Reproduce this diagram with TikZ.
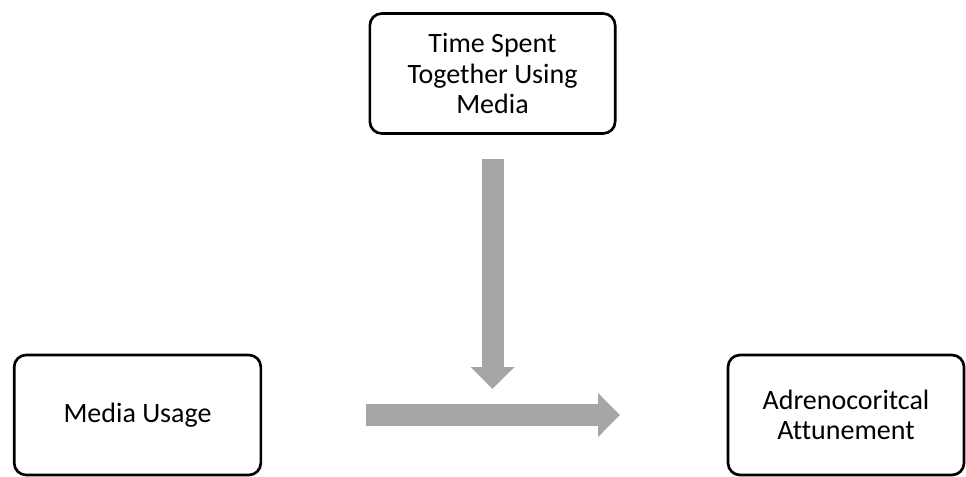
\documentclass[tikz,border=0pt]{standalone}
\usepackage{fontspec}
\setmainfont{Carlito}[Ligatures=NoCommon]
\usetikzlibrary{arrows.meta}
\definecolor{arrowgray}{HTML}{A6A6A6}

\begin{document}
\begin{tikzpicture}[x=0.75pt,y=-0.75pt,
    varbox/.style={draw, line width=2pt, rounded corners=9pt, align=center,
      minimum height=90pt, font=\fontsize{21}{23}\selectfont},
    flow/.style={draw=arrowgray, line width=16.5pt,
      -{Triangle[length=16.5pt,width=32pt]}}]

  \useasboundingbox (0,0) rectangle (966,477);

  \node[varbox, minimum width=184pt] (together) at (492.5,73.5) {Time Spent\\Together Using\\Media};
  \node[varbox, minimum width=185pt] (usage) at (137.5,415) {Media Usage};
  \node[varbox, minimum width=177pt] (attune) at (846,415) {Adrenocoritcal\\Attunement};

  \coordinate (hit) at (494,389);

  \draw[flow, shorten <=18pt] (together.south) -- (together.south |- hit);
  \draw[flow, shorten <=78pt, shorten >=80pt] (usage.east) -- (attune.west);

\end{tikzpicture}
\end{document}
